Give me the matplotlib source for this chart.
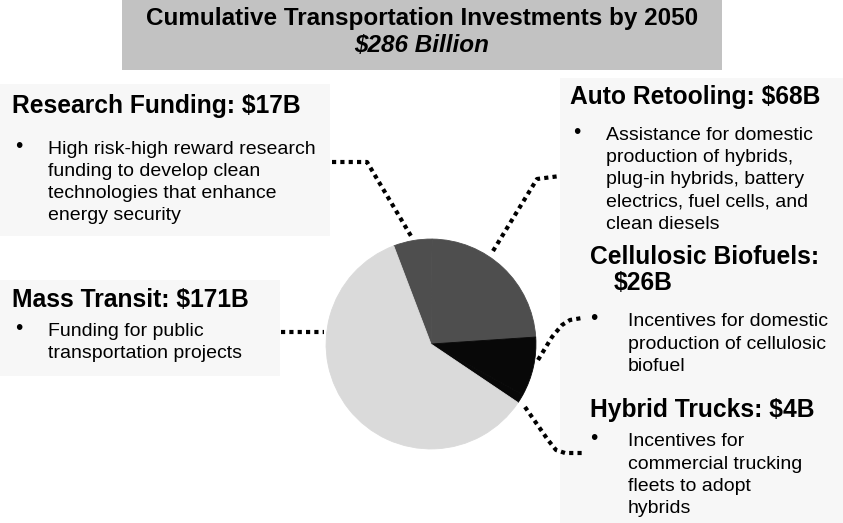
import matplotlib
matplotlib.use("Agg")
import matplotlib.pyplot as plt
from matplotlib.patches import Rectangle

plt.rcParams['font.family'] = ['Liberation Sans', 'DejaVu Sans']

# investment categories in pie order, starting at the top going clockwise ($ billions)
categories = ['Research Funding', 'Auto Retooling', 'Cellulosic Biofuels', 'Hybrid Trucks', 'Mass Transit']
amounts = [17, 68, 26, 4, 171]
slice_colors = ['#4e4e4e', '#4e4e4e', '#080808', '#080808', '#dadada']

title_lines = ['Cumulative Transportation Investments by 2050', '$286 Billion']

research_text = ['High risk-high reward research', 'funding to develop clean',
                 'technologies that enhance', 'energy security']
transit_text = ['Funding for public', 'transportation projects']
auto_text = ['Assistance for domestic', 'production of hybrids,', 'plug-in hybrids, battery',
             'electrics, fuel cells, and', 'clean diesels']
biofuel_text = ['Incentives for domestic', 'production of cellulosic', 'biofuel']
trucks_text = ['Incentives for', 'commercial trucking', 'fleets to adopt', 'hybrids']

W, H = 843, 523
fig = plt.figure(figsize=(W / 100, H / 100), dpi=100)
fig.patch.set_facecolor('white')

ax = fig.add_axes([0, 0, 1, 1])
ax.set_xlim(0, W)
ax.set_ylim(H, 0)
ax.axis('off')

# faint panels behind the text blocks
for x0, y0, w, h in [(0, 84, 330, 152), (0, 280, 280, 96), (560, 78, 283, 445)]:
    ax.add_patch(Rectangle((x0, y0), w, h, facecolor='#f7f7f7', edgecolor='none', zorder=0))

# title banner
ax.add_patch(Rectangle((122, 0), 600, 70, facecolor='#c2c2c2', edgecolor='none', zorder=1))
ax.text(422, 19, title_lines[0], ha='center', va='center', fontsize=17.5, fontweight='bold', zorder=2)
ax.text(422, 46, title_lines[1], ha='center', va='center', fontsize=17.5, fontweight='bold',
        fontstyle='italic', zorder=2)

head_fs = 17.7
body_fs = 14
step = 22.3


def block(x_head, y_head, heading, x_bullet, x_body, y_body, lines):
    if heading is not None:
        ax.text(x_head, y_head, heading, ha='left', va='center', fontsize=head_fs, fontweight='bold')
    ax.text(x_bullet, y_body - 3, '\u2022', ha='center', va='center', fontsize=15)
    for i, line in enumerate(lines):
        ax.text(x_body, y_body + i * step, line, ha='left', va='center', fontsize=body_fs)


block(12, 106, 'Research Funding: $%dB' % amounts[0], 19, 48, 149, research_text)
block(12, 300, 'Mass Transit: $%dB' % amounts[4], 19, 48, 331, transit_text)
block(570, 97, 'Auto Retooling: $%dB' % amounts[1], 577, 606, 135, auto_text)
ax.text(590, 257, 'Cellulosic Biofuels:', ha='left', va='center', fontsize=head_fs, fontweight='bold')
block(614, 283, '$%dB' % amounts[2], 594, 628, 322, biofuel_text)
block(590, 410, 'Hybrid Trucks: $%dB' % amounts[3], 594, 628, 442, trucks_text)

# dotted leader lines from the text blocks to the pie
leaders = [
    [(332, 162), (367, 162), (411, 236)],
    [(493, 251), (537, 179), (560, 176)],
    [(281, 332), (324, 332)],
    [(538, 360), (552, 337), (562, 325), (570, 320), (582, 318)],
    [(525, 407), (548, 440), (556, 450), (565, 453), (582, 453)],
]
for pts in leaders:
    xs = [p[0] for p in pts]
    ys = [p[1] for p in pts]
    ax.plot(xs, ys, color='black', linewidth=3.0, linestyle=(0, (1, 1.0)),
            dash_capstyle='butt', solid_joinstyle='miter', zorder=3)

# pie chart
cx, cy, r = 431, 344, 106
pax = fig.add_axes([(cx - r) / W, (H - cy - r) / H, 2 * r / W, 2 * r / H])
wedges, _ = pax.pie(amounts, colors=slice_colors, startangle=110.8, counterclock=False)
for w, c in zip(wedges, slice_colors):
    w.set_edgecolor(c)
    w.set_linewidth(0.6)
pax.set_xlim(-1.01, 1.01)
pax.set_ylim(-1.01, 1.01)
pax.set_aspect('auto')
pax.axis('off')

fig.savefig('out.png', dpi=100)
